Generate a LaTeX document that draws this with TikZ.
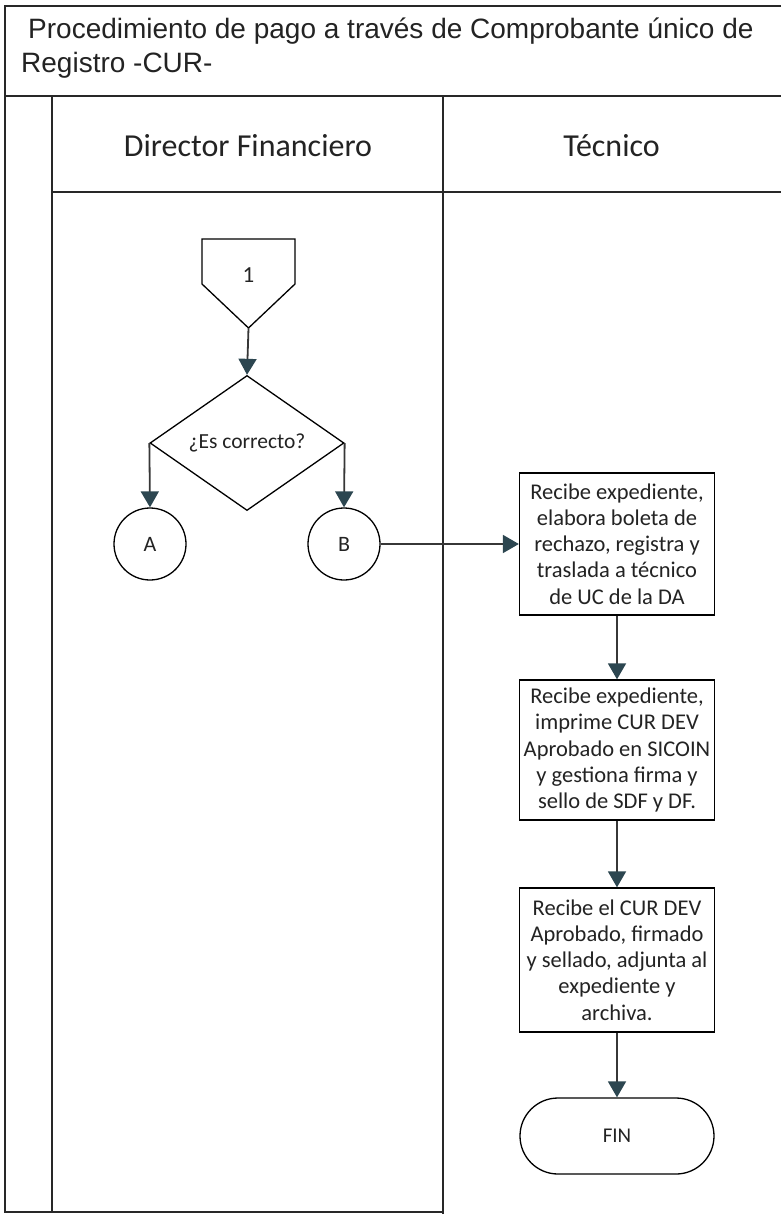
\documentclass[tikz,border=0pt]{standalone}
\usepackage{fontspec}
\setmainfont{Carlito}
\newfontfamily\titlefont{Liberation Sans}
\usetikzlibrary{arrows.meta,shapes.geometric}
\definecolor{framegray}{RGB}{40,40,40}
\definecolor{inkgray}{RGB}{55,55,55}
\definecolor{tipfill}{RGB}{44,70,80}
\definecolor{textgray}{RGB}{35,35,35}
\begin{document}
\begin{tikzpicture}[x=1pt,y=-1pt,
  frame/.style={draw=framegray, line width=1.6pt},
  outline/.style={draw=black, line width=1.3pt},
  lbl/.style={text=textgray, inner sep=0pt, font=\fontsize{23}{27}\selectfont},
  header/.style={text=textgray, inner sep=0pt, anchor=base, font=\fontsize{32}{38}\selectfont},
  titleline/.style={text=textgray, inner sep=0pt, anchor=base west, font=\titlefont\fontsize{28}{33}\selectfont},
  procbox/.style={outline, fill=white, minimum width=195pt, align=center, inner sep=0pt,
    text=textgray, font=\fontsize{22.5}{26.2}\selectfont},
  decision/.style={diamond, outline, minimum width=194pt, minimum height=107pt, inner sep=0pt,
    text=textgray, font=\fontsize{21.5}{25}\selectfont},
  connector/.style={circle, outline, minimum size=72pt, inner sep=0pt, text=textgray,
    font=\fontsize{22}{26}\selectfont},
  terminal/.style={outline, rounded corners=38pt, minimum width=194pt, minimum height=76pt,
    inner sep=0pt, text=textgray, font=\fontsize{21}{25}\selectfont},
  flow/.style={draw=inkgray, line width=1.8pt,
    -{Triangle[width=18pt,length=16pt,color=tipfill]}}]

\useasboundingbox (0,0) rectangle (781,1214);

% swimlane frame (open on the right side)
\draw[frame] (781,6) -- (5,6) -- (5,1212) -- (443,1212);
\draw[frame] (5,96) -- (781,96);
\draw[frame] (52,96) -- (52,1212);
\draw[frame] (443,96) -- (443,1214);
\draw[frame] (52,192) -- (781,192);

% title
\node[titleline] (title1) at (28,39) {Procedimiento de pago a través de Comprobante único de};
\node[titleline] (title2) at (21,73) {Registro -CUR-};

% lane headers
\node[header] (laneDF) at (248,157) {Director Financiero};
\node[header] (laneTec) at (611.5,157) {Técnico};

% off-page connector
\draw[outline] (202,239) -- (295,239) -- (295,284) -- (248.5,328) -- (202,284) -- cycle;
\node[lbl] (conn1) at (248.5,275) {1};
\coordinate (conn1tip) at (248.5,328);

% decision and its outcomes
\node[decision] (check) at (247,443) {¿Es correcto?};
\node[connector] (optA) at (150,544) {A};
\node[connector] (optB) at (344,544) {B};

% technician steps
\node[procbox, minimum height=142pt] (step1) at (617,544)
  {Recibe expediente,\\elabora boleta de\\rechazo, registra y\\traslada a técnico\\de UC de la DA};
\node[procbox, minimum height=140pt] (step2) at (617,750)
  {Recibe expediente,\\imprime CUR DEV\\Aprobado en SICOIN\\y gestiona firma y\\sello de SDF y DF.};
\node[procbox, minimum height=144pt] (step3) at (617,960)
  {Recibe el CUR DEV\\Aprobado, firmado\\y sellado, adjunta al\\expediente y\\archiva.};
\node[terminal] (fin) at (617,1136) {FIN};

% connectors
\draw[flow] (conn1tip) -- (check.north);
\draw[flow] (check.west) -- (optA.north);
\draw[flow] (check.east) -- (optB.north);
\draw[flow] (optB.east) -- (step1.west);
\draw[flow] (step1.south) -- (step2.north);
\draw[flow] (step2.south) -- (step3.north);
\draw[flow] (step3.south) -- (fin.north);
\end{tikzpicture}
\end{document}
